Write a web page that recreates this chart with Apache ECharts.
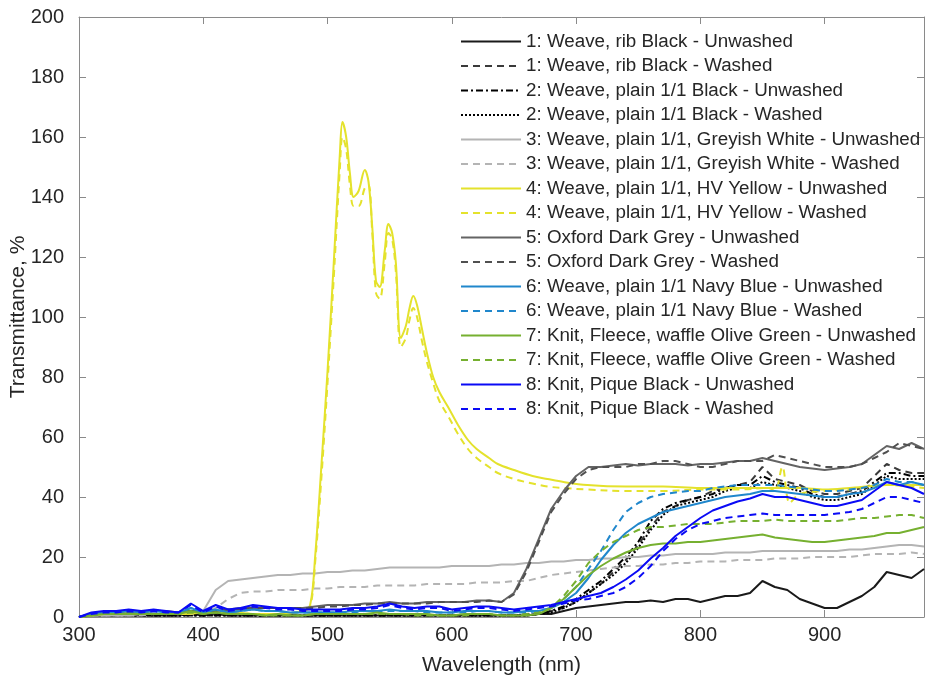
<!DOCTYPE html>
<html>
<head>
<meta charset="utf-8">
<script src="https://cdn.jsdelivr.net/npm/echarts@6/dist/echarts.min.js"></script>
<style>
  html, body { margin: 0; padding: 0; background: #fff; }
  #chart { width: 933px; height: 684px; }
</style>
</head>
<body>
<div id="chart"></div>
<script>
// wavelength grid (nm) shared by most series
const wavelength = [
  300, 310, 320, 330, 340, 350, 360, 370, 380, 390,
  400, 410, 420, 430, 440, 450, 460, 470, 480, 490,
  500, 510, 520, 530, 540, 550, 560, 570, 580, 590,
  600, 610, 620, 630, 640, 650, 660, 670, 680, 690,
  700, 710, 720, 730, 740, 750, 760, 770, 780, 790,
  800, 810, 820, 830, 840, 850, 860, 870, 880, 890,
  900, 910, 920, 930, 940, 950, 960, 970, 980
]

// finer grid for the yellow fabric (peaks around 500-580 nm)
const yellowWavelength = [
  300, 320, 340, 360, 380, 400, 420, 440, 460, 480,
  486, 490, 495, 500, 505, 510, 512, 515, 518, 521,
  525, 530, 533, 536, 539, 542, 546, 549, 552, 555,
  559, 563, 566, 569, 572, 576, 580, 585, 590, 597,
  605, 613, 620, 630, 637, 650, 665, 677, 690, 709,
  740, 770, 800, 830, 855, 860, 866, 872, 880, 900,
  920, 950, 980
]

const ribBlackUnwashed = [
  0, 0.5, 0.5, 0.5, 0.5, 0.5, 0.5, 0.5, 0.5, 1,
  0.5, 1, 0.5, 0.5, 0.5, 0.5, 0.5, 0.5, 0.5, 0.5,
  0.5, 0.5, 0.5, 0.5, 0.5, 0.5, 0.5, 0.5, 0.5, 0.5,
  0.5, 0.5, 0.5, 0.5, 0.5, 0.5, 0.5, 1, 1, 2,
  3, 3.5, 4, 4.5, 5, 5, 5.5, 5, 6, 6,
  5, 6, 7, 7, 8, 12, 10, 9, 6, 4.5,
  3, 3, 5, 7, 10, 15, 14, 13, 16
]
const ribBlackWashed = [
  0, 0.5, 0.5, 0.5, 0.5, 0.5, 0.5, 0.5, 0.5, 1,
  0.5, 1, 1, 0.5, 0.5, 0.5, 0.5, 0.5, 0.5, 0.5,
  0.5, 0.5, 0.5, 0.5, 0.5, 0.5, 0.5, 0.5, 0.5, 0.5,
  0.5, 0.5, 0.5, 0.5, 0.5, 0.5, 1, 1, 2, 3,
  5, 8, 11, 15, 19, 24, 30, 35, 37, 39,
  40, 42, 43, 44, 45, 50, 46, 45, 44, 42,
  41, 41, 42, 43, 47, 51, 49, 48, 48
]
const plainBlackUnwashed = [
  0, 0.5, 0.5, 0.5, 0.5, 0.5, 0.5, 0.5, 0.5, 0.5,
  0.5, 0.5, 0.5, 0.5, 0.5, 0.5, 0.5, 0.5, 0.5, 0.5,
  0.5, 0.5, 0.5, 0.5, 0.5, 0.5, 0.5, 0.5, 0.5, 0.5,
  0.5, 0.5, 0.5, 0.5, 0.5, 0.5, 0.5, 1, 2, 3.5,
  6, 9, 12, 16, 20, 25, 32, 36, 38, 39,
  40, 41, 43, 44, 44, 47, 45, 44, 43, 41,
  40, 40, 41, 42, 45, 48, 48, 47, 47
]
const plainBlackWashed = [
  0, 0.5, 0.5, 0.5, 0.5, 0.5, 0.5, 0.5, 0.5, 0.5,
  0.5, 0.5, 0.5, 0.5, 0.5, 0.5, 0.5, 0.5, 0.5, 0.5,
  0.5, 0.5, 0.5, 0.5, 0.5, 0.5, 0.5, 0.5, 0.5, 0.5,
  0.5, 0.5, 0.5, 0.5, 0.5, 0.5, 0.5, 1, 1.5, 3,
  5, 8, 11, 14, 18, 23, 29, 34, 37, 38,
  39, 40, 42, 43, 43, 45, 44, 43, 42, 40,
  39, 39, 40, 41, 44, 47, 46, 46, 46
]
const greyWhiteUnwashed = [
  0, 0.5, 0.5, 0.5, 0.5, 1, 1, 1, 1, 1.5,
  2, 9, 12, 12.5, 13, 13.5, 14, 14, 14.5, 14.5,
  15, 15, 15.5, 15.5, 16, 16.5, 16.5, 16.5, 16.5, 16.5,
  17, 17, 17, 17, 17.5, 17.5, 18, 18, 18.5, 18.5,
  19, 19, 19.5, 19.5, 20, 20, 20.5, 20.5, 21, 21,
  21, 21, 21.5, 21.5, 21.5, 22, 22, 22, 22, 22,
  22, 22, 22.5, 22.5, 23, 23.5, 24, 24, 23.5
]
const greyWhiteWashed = [
  0, 0.5, 0.5, 0.5, 0.5, 0.5, 1, 1, 1, 1,
  1.5, 3, 6, 8, 8.5, 8.5, 9, 9, 9, 9.5,
  9.5, 10, 10, 10, 10.5, 10.5, 10.5, 10.5, 11, 11,
  11, 11, 11.5, 11.5, 11.5, 12, 12, 13, 14, 14.5,
  15, 15.5, 16, 16.5, 17, 17, 17.5, 17.5, 18, 18,
  18.5, 18.5, 18.5, 19, 19, 19, 19.5, 19.5, 19.5, 20,
  20, 20, 20, 20.5, 21, 21, 21, 21.5, 21
]
const hvYellowUnwashed = [
  0, 1, 1.5, 1, 1, 1.5, 2, 1, 1, 2,
  4, 20, 50, 82, 118, 155, 165, 160, 148, 140,
  142, 149, 145, 130, 112, 110, 122, 131, 128, 118,
  93, 97, 103, 107, 104, 96, 88, 80, 75, 70,
  64, 59, 56, 53, 51, 49, 47, 46, 45, 44,
  43.5, 43.5, 43, 43, 43, 43, 43, 43, 43, 42.5,
  43, 44, 44
]
const hvYellowWashed = [
  0, 1, 1.5, 1, 1, 1.5, 2, 1, 1, 2,
  3.5, 18, 46, 78, 113, 150, 160, 156, 144, 137,
  137, 143, 144, 128, 108, 106, 118, 128, 126, 115,
  90, 93, 99, 103, 100, 92, 85, 78, 72, 67,
  61, 56, 53, 50, 48, 46, 44.5, 43.5, 43, 42.5,
  42, 42, 42.5, 42.5, 43, 42, 50, 38, 41, 42,
  42.5, 44, 43
]
const oxfordGreyUnwashed = [
  0, 1, 1.5, 1.5, 2, 1.5, 2, 2, 1.5, 2,
  2, 2, 2.5, 3, 3, 3, 3, 3, 3, 3.5,
  4, 4, 4, 4.5, 4.5, 5, 4.5, 4.5, 5, 5,
  5, 5, 5.5, 5.5, 5, 8, 16, 26, 36, 42,
  47, 50, 50, 50.5, 51, 50.5, 51, 51, 51, 50.5,
  51, 51, 51.5, 52, 52, 53, 52, 51, 50, 49.5,
  49, 49.5, 50, 51, 54, 57, 56, 58, 56
]
const oxfordGreyWashed = [
  0, 1, 1.5, 1.5, 1.5, 1.5, 2, 1.5, 1.5, 2,
  2, 2, 2.5, 2.5, 3, 3, 3, 3, 3, 3,
  3.5, 3.5, 4, 4, 4.5, 4.5, 4.5, 4.5, 4.5, 5,
  5, 5, 5, 5.5, 5, 7.5, 15, 25, 35, 41,
  46, 49, 50, 50, 50, 51, 51, 52, 52, 51,
  50, 50, 51, 52, 52, 52, 54, 53, 52, 51,
  50, 50, 50, 51, 53, 55, 58, 57, 56
]
const navyBlueUnwashed = [
  0, 1, 1.5, 1.5, 2, 1.5, 2, 1.5, 1.5, 3,
  1.5, 2.5, 1.5, 2, 2.5, 2, 2, 1.5, 1.5, 1.5,
  1.5, 1.5, 2, 2, 2, 2.5, 2, 2, 2, 1.5,
  1.5, 2, 2, 2, 1.5, 1.5, 2, 2, 3, 5,
  8, 13, 19, 24, 28, 31, 33, 35, 36, 37,
  38, 39, 40, 40.5, 41, 42, 42, 41.5, 41, 40.5,
  40, 40, 41, 41.5, 43, 45, 44, 45, 44
]
const navyBlueWashed = [
  0, 1, 1.5, 1.5, 2, 1.5, 2, 1.5, 1.5, 3,
  1.5, 2.5, 1.5, 2, 2.5, 2, 2, 1.5, 1.5, 1.5,
  1.5, 1.5, 1.5, 2, 2, 2, 2, 2, 1.5, 1.5,
  1.5, 1.5, 2, 2, 1.5, 1.5, 1.5, 2, 3, 6,
  10, 16, 22, 29, 35, 38, 40, 41, 41.5, 42,
  42, 43, 43.5, 44, 44, 44, 44, 43.5, 43, 42.5,
  42, 42, 42.5, 43, 44, 46, 45, 45, 44
]
const oliveGreenUnwashed = [
  0, 0.5, 1, 1, 1, 1, 1, 1, 1, 2,
  1, 1.5, 1, 1, 1, 0.5, 1, 0.5, 0.5, 1,
  1, 1, 1, 1, 1.5, 1, 1, 1, 1, 0.5,
  0.5, 1, 1, 1, 0.5, 0.5, 0.5, 1, 3, 6,
  10, 14, 17, 19.5, 21.5, 23, 24, 24.5, 24.5, 25,
  25, 25.5, 26, 26.5, 27, 27.5, 26.5, 26, 25.5, 25,
  25, 25.5, 26, 26.5, 27, 28, 28, 29, 30
]
const oliveGreenWashed = [
  0, 0.5, 1, 1, 1, 1, 1, 1, 1, 1.5,
  1, 1.5, 1, 1, 1, 0.5, 0.5, 0.5, 0.5, 1,
  1, 1, 1, 1, 1, 1, 1, 0.5, 0.5, 0.5,
  0.5, 0.5, 1, 1, 0.5, 0.5, 1, 1.5, 3, 7,
  12, 18, 22, 25, 27, 29, 30, 30, 30.5, 31,
  31, 31, 31.5, 32, 32, 32, 32.5, 32, 32, 32,
  32, 32, 32.5, 33, 33, 33.5, 34, 34, 33
]
const piqueBlackUnwashed = [
  0, 1.5, 2, 2, 2.5, 2, 2.5, 2, 1.5, 4.5,
  2, 4, 2.5, 3, 4, 3.5, 3, 3, 2.5, 2.5,
  2.5, 2.5, 3, 3, 3.5, 4.5, 3.5, 3, 3.5, 3.5,
  2.5, 3, 3.5, 3.5, 3, 2.5, 3, 3.5, 4, 5,
  6, 7, 8, 10, 12.5, 15.5, 19.5, 23, 27, 30,
  33, 35.5, 37, 38.5, 39.5, 41, 40, 40, 39, 38,
  37, 37, 38, 39, 42, 45, 44, 43, 41
]
const piqueBlackWashed = [
  0, 1, 1.5, 1.5, 2, 1.5, 2, 1.5, 1.5, 4,
  1.5, 3.5, 2, 2.5, 3.5, 3, 2.5, 2.5, 2, 2,
  2, 2, 2.5, 2.5, 3, 4, 3, 2.5, 3, 3,
  2, 2.5, 3, 3, 2.5, 2, 2.5, 3, 3.5, 4.5,
  5.5, 6, 7, 8, 10, 13, 17, 22, 26, 29,
  31, 32, 33, 33.5, 34, 34.5, 34, 34, 34, 34,
  34, 34.5, 35, 36, 38, 40, 40, 39, 38
]

const xTicks = { min: 300, max: 980, interval: 100 }
const yTicks = { min: 0, max: 200, interval: 20 }

// series definitions: name, values, x grid, colour, dash pattern, smoothing
const seriesDefs = [
  ['1: Weave, rib Black - Unwashed', ribBlackUnwashed, wavelength, '#1a1a1a', 'solid', 0],
  ['1: Weave, rib Black - Washed', ribBlackWashed, wavelength, '#3a3a3a', [7, 5], 0],
  ['2: Weave, plain 1/1 Black - Unwashed', plainBlackUnwashed, wavelength, '#000000', [7, 3, 2, 3], 0],
  ['2: Weave, plain 1/1 Black - Washed', plainBlackWashed, wavelength, '#000000', [2, 2], 0],
  ['3: Weave, plain 1/1, Greyish White - Unwashed', greyWhiteUnwashed, wavelength, '#b4b4b4', 'solid', 0],
  ['3: Weave, plain 1/1, Greyish White - Washed', greyWhiteWashed, wavelength, '#b4b4b4', [7, 5], 0],
  ['4: Weave, plain 1/1, HV Yellow - Unwashed', hvYellowUnwashed, yellowWavelength, '#e4e22c', 'solid', 0.35],
  ['4: Weave, plain 1/1, HV Yellow - Washed', hvYellowWashed, yellowWavelength, '#e4e22c', [7, 5], 0.35],
  ['5: Oxford Dark Grey - Unwashed', oxfordGreyUnwashed, wavelength, '#646464', 'solid', 0],
  ['5: Oxford Dark Grey - Washed', oxfordGreyWashed, wavelength, '#505050', [7, 5], 0],
  ['6: Weave, plain 1/1 Navy Blue - Unwashed', navyBlueUnwashed, wavelength, '#2087cc', 'solid', 0],
  ['6: Weave, plain 1/1 Navy Blue - Washed', navyBlueWashed, wavelength, '#2087cc', [7, 5], 0],
  ['7: Knit, Fleece, waffle Olive Green - Unwashed', oliveGreenUnwashed, wavelength, '#76b030', 'solid', 0],
  ['7: Knit, Fleece, waffle Olive Green - Washed', oliveGreenWashed, wavelength, '#76b030', [7, 5], 0],
  ['8: Knit, Pique Black - Unwashed', piqueBlackUnwashed, wavelength, '#0a0af5', 'solid', 0],
  ['8: Knit, Pique Black - Washed', piqueBlackWashed, wavelength, '#0a0af5', [7, 5], 0]
]

const fontFamily = '"Liberation Sans", Arial, Helvetica, sans-serif'
const axisColor = '#8a8a8a'
const textColor = '#262626'

const chart = echarts.init(document.getElementById('chart'))

const series = seriesDefs.map(([name, values, xs, color, dash, smooth]) => ({
  name,
  type: 'line',
  data: xs.map((x, i) => [x, values[i]]),
  showSymbol: false,
  symbol: 'none',
  smooth,
  lineStyle: { color, width: 2, type: dash },
  itemStyle: { color },
  emphasis: { disabled: true },
  z: 2
}))

const frameAxis = (extra) => ({
  axisLine: { show: true, onZero: false, lineStyle: { color: axisColor, width: 1 } },
  axisTick: { show: true, inside: true, length: 7, lineStyle: { color: axisColor } },
  splitLine: { show: false },
  ...extra
})

const option = {
  animation: false,
  backgroundColor: '#fff',
  textStyle: { fontFamily },
  grid: { left: 79, right: 9, top: 17, bottom: 67, containLabel: false, outerBoundsMode: 'none' },
  legend: {
    orient: 'vertical',
    left: 455,
    top: 27,
    padding: [5, 2, 5, 5],
    itemWidth: 60,
    itemHeight: 14,
    itemGap: 5.5,
    itemStyle: { opacity: 0 },
    textStyle: { fontSize: 18.8, color: textColor, fontFamily, lineHeight: 19 },
    data: seriesDefs.map((d) => d[0])
  },
  xAxis: [
    frameAxis({
      type: 'value',
      ...xTicks,
      name: 'Wavelength (nm)',
      nameLocation: 'middle',
      nameGap: 38,
      nameMoveOverlap: false,
      nameTextStyle: { fontSize: 21, color: textColor },
      axisLabel: { fontSize: 20, color: textColor, margin: 8, showMaxLabel: false }
    }),
    frameAxis({ type: 'value', position: 'top', ...xTicks, axisLabel: { show: false } })
  ],
  yAxis: [
    frameAxis({
      type: 'value',
      ...yTicks,
      name: 'Transmittance, %',
      nameLocation: 'middle',
      nameGap: 50,
      nameMoveOverlap: false,
      nameTextStyle: { fontSize: 21, color: textColor },
      axisLabel: { fontSize: 20, color: textColor, margin: 15 }
    }),
    frameAxis({ type: 'value', position: 'right', ...yTicks, axisLabel: { show: false } })
  ],
  series
}

chart.setOption(option)
</script>
</body>
</html>
